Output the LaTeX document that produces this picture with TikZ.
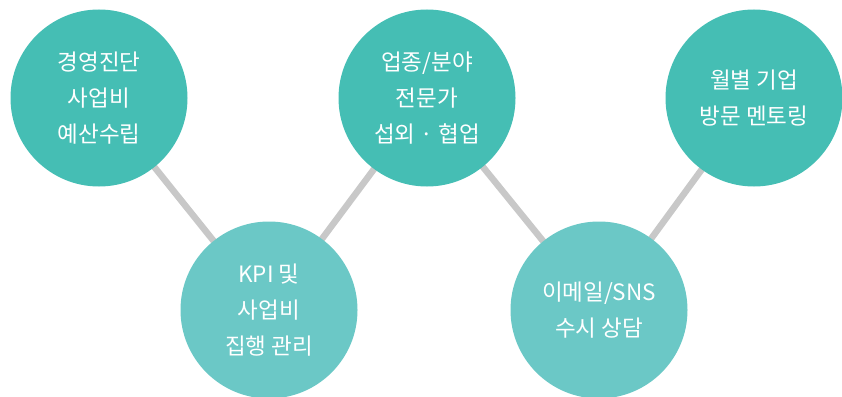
\documentclass[tikz,border=0pt]{standalone}
\usepackage{fontspec}
\setmainfont{Noto Sans CJK KR}
\definecolor{tealdark}{HTML}{45BEB4}
\definecolor{teallight}{HTML}{6BC8C6}
\definecolor{linkgrey}{HTML}{C8C8C8}
\begin{document}
\begin{tikzpicture}[x=1pt,y=-1pt,
  bubble/.style={circle,minimum size=177pt,inner sep=0pt,text=white,align=center,
    font=\fontsize{22.5}{36}\selectfont},
  topb/.style={bubble,fill=tealdark},
  botb/.style={bubble,fill=teallight},
  link/.style={draw=linkgrey,line width=6.5pt}]
\useasboundingbox (0,0) rectangle (842,396);
\coordinate (c1) at (99,98);
\coordinate (c2) at (269,310);
\coordinate (c3) at (427,98);
\coordinate (c4) at (599,310);
\coordinate (c5) at (754,98);
\draw[link] (c1) -- (c2) -- (c3) -- (c4) -- (c5);
\node[topb] (n1) at (c1) {경영진단\\사업비\\예산수립};
\node[botb] (n2) at (c2) {KPI 및\\사업비\\집행 관리};
\node[topb] (n3) at (c3) {업종/분야\\전문가\\섭외 · 협업};
\node[botb] (n4) at (c4) {이메일/SNS\\수시 상담};
\node[topb] (n5) at (c5) {월별 기업\\방문 멘토링};
\end{tikzpicture}
\end{document}
